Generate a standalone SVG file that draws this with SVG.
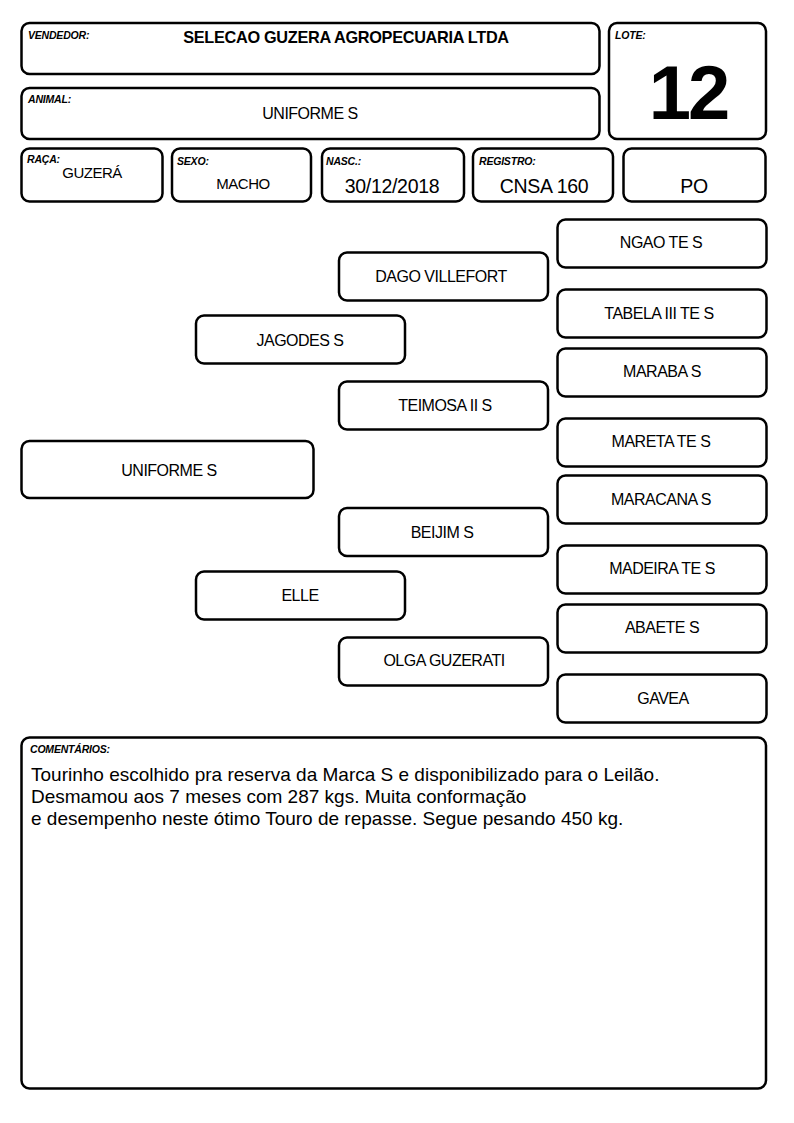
<svg xmlns="http://www.w3.org/2000/svg" width="794" height="1123" viewBox="0 0 794 1123">
<style>
rect{fill:#fff;stroke:#000;stroke-width:2.5}
text{font-family:"Liberation Sans",Arial,sans-serif;fill:#000}
.lbl{font-size:10.5px;font-weight:bold;font-style:italic;letter-spacing:-0.2px}
.n{font-size:16px;text-anchor:middle;letter-spacing:-0.5px}
.s{font-size:15px;text-anchor:middle;letter-spacing:-0.5px}
.v{font-size:19.5px;text-anchor:middle;letter-spacing:-0.3px}
.c{font-size:19px}
</style>
<rect x="0" y="0" width="794" height="1123" style="stroke:none"/>
<g id="vendedor"><rect x="21.5" y="23" width="578" height="51" rx="8"/><text class="lbl" x="28" y="39">VENDEDOR:</text><text x="346" y="43" style="font-size:16.3px;font-weight:bold;text-anchor:middle;letter-spacing:-0.3px">SELECAO GUZERA AGROPECUARIA LTDA</text></g>
<g id="lote"><rect x="609" y="23" width="157" height="116" rx="8"/><text class="lbl" x="615" y="39">LOTE:</text><text x="688" y="119" style="font-size:76px;font-weight:bold;text-anchor:middle;letter-spacing:-3px">12</text></g>
<g id="animal"><rect x="21.5" y="88" width="578" height="51" rx="8"/><text class="lbl" x="28" y="103">ANIMAL:</text><text class="n" x="310" y="119">UNIFORME S</text></g>
<g id="raca"><rect x="21.5" y="148.5" width="141" height="53" rx="8"/><text class="lbl" x="27" y="163">RAÇA:</text><text class="s" x="92" y="178">GUZERÁ</text></g>
<g id="sexo"><rect x="172" y="148.5" width="139" height="53" rx="8"/><text class="lbl" x="177" y="165">SEXO:</text><text class="s" x="243" y="189">MACHO</text></g>
<g id="nasc"><rect x="322" y="148.5" width="142" height="53" rx="8"/><text class="lbl" x="326" y="165">NASC.:</text><text class="v" x="392" y="193">30/12/2018</text></g>
<g id="registro"><rect x="473" y="148.5" width="140" height="53" rx="8"/><text class="lbl" x="479" y="165">REGISTRO:</text><text class="v" x="544" y="193">CNSA 160</text></g>
<g id="po"><rect x="623.5" y="148.5" width="142" height="53" rx="8"/><text class="v" x="694" y="193">PO</text></g>
<g id="connectors"></g>
<g id="p-uniforme"><rect x="21.5" y="441" width="292" height="57" rx="8"/><text class="n" x="169" y="476">UNIFORME S</text></g>
<g id="p-jagodes"><rect x="196" y="315.5" width="209" height="48" rx="8"/><text class="n" x="300" y="346">JAGODES S</text></g>
<g id="p-elle"><rect x="196" y="571.5" width="209" height="48" rx="8"/><text class="n" x="300" y="601">ELLE</text></g>
<g id="p-dago"><rect x="339" y="252.5" width="209" height="48" rx="8"/><text class="n" x="441" y="282">DAGO VILLEFORT</text></g>
<g id="p-teimosa"><rect x="339" y="381.5" width="209" height="48" rx="8"/><text class="n" x="445" y="411">TEIMOSA II S</text></g>
<g id="p-beijim"><rect x="339" y="508" width="209" height="48" rx="8"/><text class="n" x="442" y="538">BEIJIM S</text></g>
<g id="p-olga"><rect x="339" y="637.5" width="209" height="48" rx="8"/><text class="n" x="444" y="666">OLGA GUZERATI</text></g>
<g id="p-ngao"><rect x="557.5" y="219.5" width="209" height="48" rx="8"/><text class="n" x="661" y="248">NGAO TE S</text></g>
<g id="p-tabela"><rect x="557.5" y="289.5" width="209" height="48" rx="8"/><text class="n" x="659" y="319">TABELA III TE S</text></g>
<g id="p-maraba"><rect x="557.5" y="348.5" width="209" height="48" rx="8"/><text class="n" x="662" y="377">MARABA S</text></g>
<g id="p-mareta"><rect x="557.5" y="418.5" width="209" height="48" rx="8"/><text class="n" x="661" y="447">MARETA TE S</text></g>
<g id="p-maracana"><rect x="557.5" y="475.5" width="209" height="48" rx="8"/><text class="n" x="661" y="505">MARACANA S</text></g>
<g id="p-madeira"><rect x="557.5" y="545.5" width="209" height="48" rx="8"/><text class="n" x="662" y="574">MADEIRA TE S</text></g>
<g id="p-abaete"><rect x="557.5" y="604.5" width="209" height="48" rx="8"/><text class="n" x="662" y="633">ABAETE S</text></g>
<g id="p-gavea"><rect x="557.5" y="674.5" width="209" height="48" rx="8"/><text class="n" x="663" y="704">GAVEA</text></g>
<g id="comentarios"><rect x="21.5" y="737.5" width="744.5" height="351" rx="8"/><text class="lbl" x="30" y="753">COMENTÁRIOS:</text>
<text class="c" x="31" y="781">Tourinho escolhido pra reserva da Marca S e disponibilizado para o Leilão.</text>
<text class="c" x="31" y="803">Desmamou aos 7 meses com 287 kgs. Muita conformação</text>
<text class="c" x="31" y="825">e desempenho neste ótimo Touro de repasse. Segue pesando 450 kg.</text></g>
</svg>
